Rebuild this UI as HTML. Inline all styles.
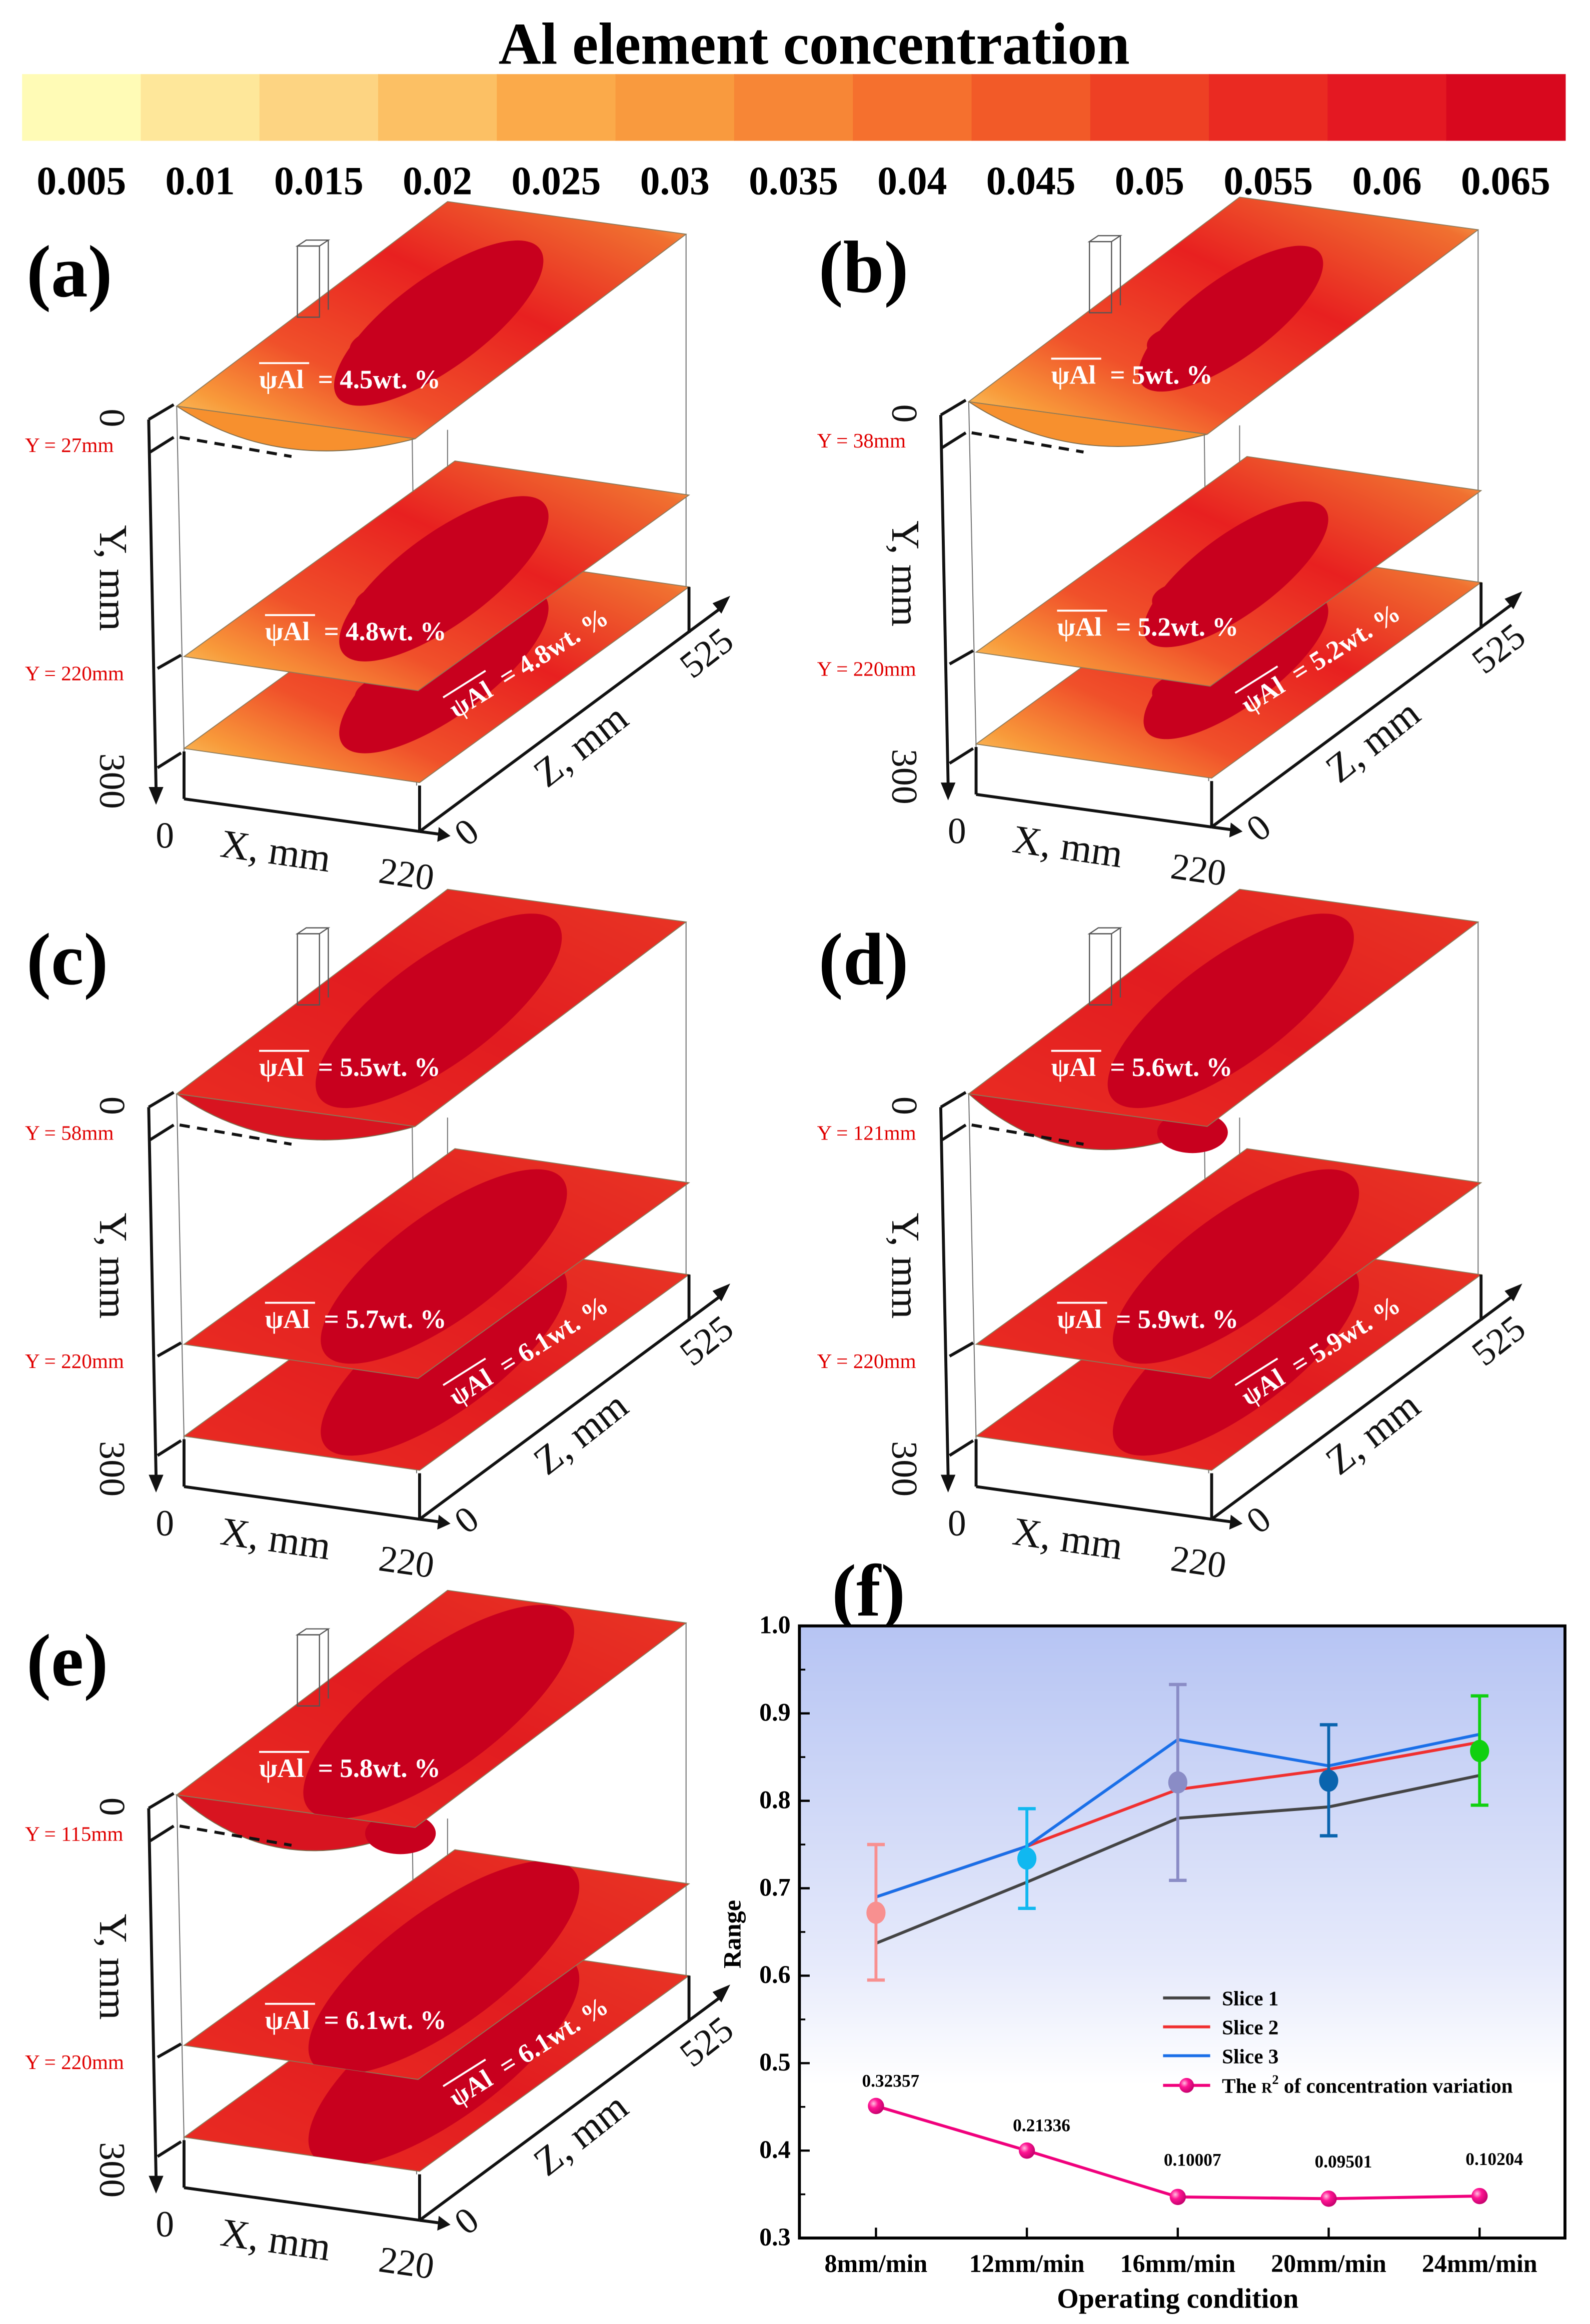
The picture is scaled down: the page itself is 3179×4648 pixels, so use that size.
<!DOCTYPE html>
<html><head><meta charset="utf-8">
<style>
html,body{margin:0;padding:0;background:#fff;}
svg{display:block;}
text{font-family:"Liberation Serif",serif;}
</style></head>
<body>
<svg id="fig" xmlns="http://www.w3.org/2000/svg" width="3179" height="4648" viewBox="0 0 1080 1568" preserveAspectRatio="none">
<defs>
  <linearGradient id="plotbg" x1="0" y1="0" x2="0" y2="1">
    <stop offset="0" stop-color="#b6c4f3"/>
    <stop offset="0.55" stop-color="#e6eafb"/>
    <stop offset="0.75" stop-color="#ffffff"/>
    <stop offset="1" stop-color="#ffffff"/>
  </linearGradient>
  <linearGradient id="warmA" x1="0" y1="1" x2="1" y2="0">
    <stop offset="0" stop-color="#fbd070"/>
    <stop offset="0.12" stop-color="#f89a3a"/>
    <stop offset="0.3" stop-color="#f0502a"/>
    <stop offset="0.6" stop-color="#e82020"/>
    <stop offset="0.9" stop-color="#f07030"/>
    <stop offset="1" stop-color="#fbc060"/>
  </linearGradient>
  <linearGradient id="warmC" x1="0" y1="1" x2="1" y2="0">
    <stop offset="0" stop-color="#f06030"/>
    <stop offset="0.08" stop-color="#e82a22"/>
    <stop offset="0.5" stop-color="#e21c20"/>
    <stop offset="0.95" stop-color="#e83424"/>
    <stop offset="1" stop-color="#f07040"/>
  </linearGradient>
  <radialGradient id="ball" cx="0.35" cy="0.35" r="0.7">
    <stop offset="0" stop-color="#ffc0e0"/>
    <stop offset="0.4" stop-color="#ff1493"/>
    <stop offset="1" stop-color="#c0006a"/>
  </radialGradient>
</defs>
<g id="colorbar"></g>
<g id="panels"></g>
<g id="chart"></g>
</svg>
<script>
// ---- chart data ----
const categories = ['8mm/min','12mm/min','16mm/min','20mm/min','24mm/min'];
const slice1 = [0.637, 0.707, 0.780, 0.793, 0.829];
const slice2 = [0.690, 0.748, 0.813, 0.836, 0.867];
const slice3 = [0.690, 0.748, 0.870, 0.840, 0.876];
const meanVals = [0.672, 0.734, 0.821, 0.823, 0.857];
const errLow = [0.595, 0.677, 0.709, 0.760, 0.795];
const errHigh = [0.750, 0.791, 0.933, 0.887, 0.920];
const r2Vals = [0.451, 0.400, 0.347, 0.345, 0.348];
const r2Labels = ['0.32357','0.21336','0.10007','0.09501','0.10204'];
const yTicks = [0.3,0.4,0.5,0.6,0.7,0.8,0.9,1.0];
const yTickLabels = ['0.3','0.4','0.5','0.6','0.7','0.8','0.9','1.0'];
const cbLabels = ['0.005','0.01','0.015','0.02','0.025','0.03','0.035','0.04','0.045','0.05','0.055','0.06','0.065'];
const cbColors = ['#fffbb6','#fee79a','#fdd482','#fcc064','#fbaa4a','#f99a3e','#f78636','#f5702e','#f25a28','#ee4024','#ea2a22','#e41822','#d8081e'];

const NS='http://www.w3.org/2000/svg';
function mk(parent, tag, attrs, txt){
  const e=document.createElementNS(NS,tag);
  for(const k in attrs) e.setAttribute(k,attrs[k]);
  if(txt!==undefined) e.textContent=txt;
  parent.appendChild(e);
  return e;
}

// ---- colorbar ----
const cb=document.getElementById('colorbar');
let t=mk(cb,'text',{x:553,y:43,'text-anchor':'middle','font-size':40,'font-weight':'bold'},'Al element concentration');


const cbX0=15, cbX1=1063, segW=(cbX1-cbX0)/cbColors.length;
cbColors.forEach((c,i)=>{
  const r=mk(cb,'rect',{x:cbX0+i*segW,y:50,width:segW+0.5,height:45,fill:c});
  
  
});
cbLabels.forEach((l,i)=>{
  const tt=mk(cb,'text',{x:cbX0+(i+0.5)*segW,y:131,'text-anchor':'middle','font-size':27,'font-weight':'bold'},l);
  
  
});

// ---- panels ----
const panelsG=document.getElementById('panels');
const panels=[
 {id:'a',dx:0,dy:0,yl:'Y = 27mm',t1:'4.5wt. %',t2:'4.8wt. %',t3:'4.8wt. %',dip:14,warm:'warmA',blob:0.85,z:'525'},
 {id:'b',dx:538,dy:-3,yl:'Y = 38mm',t1:'5wt. %',t2:'5.2wt. %',t3:'5.2wt. %',dip:14,warm:'warmA',blob:0.75,z:'525'},
 {id:'c',dx:0,dy:464,yl:'Y = 58mm',t1:'5.5wt. %',t2:'5.7wt. %',t3:'6.1wt. %',dip:16,warm:'warmC',blob:1,z:'525'},
 {id:'d',dx:538,dy:464,yl:'Y = 121mm',t1:'5.6wt. %',t2:'5.9wt. %',t3:'5.9wt. %',dip:30,warm:'warmC',blob:1,z:'525'},
 {id:'e',dx:0,dy:937,yl:'Y = 115mm',t1:'5.8wt. %',t2:'6.1wt. %',t3:'6.1wt. %',dip:30,warm:'warmC',blob:1.1,z:'525'}
];
function P(p,x,y){return (x+p.dx)+','+(y+p.dy);}
function plane(g,p,L,F,R){
  const B=[L[0]+R[0]-F[0], L[1]+R[1]-F[1]];
  const pts=[L,F,R,B].map(q=>P(p,q[0],q[1])).join(' ');
  const cid='clip'+p.id+L[1];
  const cp=mk(g,'clipPath',{id:cid});
  mk(cp,'polygon',{points:pts});
  const poly=mk(g,'polygon',{points:pts,fill:'url(#'+p.warm+')',stroke:'#8a7a5a','stroke-width':0.6});
  
  
  const cg=mk(g,'g',{'clip-path':'url(#'+cid+')'});
  const cx=(L[0]+R[0])/2+5, cy=(L[1]+R[1])/2+2;
  mk(cg,'ellipse',{cx:cx+p.dx,cy:cy+p.dy,rx:100*p.blob,ry:36*p.blob,fill:'#c8001e',transform:'rotate(-36 '+(cx+p.dx)+' '+(cy+p.dy)+')'});
  mk(cg,'ellipse',{cx:cx+p.dx-30,cy:cy+p.dy+18,rx:36*p.blob,ry:18*p.blob,fill:'#c8001e'});
}
panels.forEach(p=>{
  const g=mk(panelsG,'g',{});
  
  
  const lbl=mk(g,'text',{x:18+p.dx,y:200+p.dy,'font-size':50,'font-weight':'bold'},'('+p.id+')');
  
  
  const thin={stroke:'#777','stroke-width':0.7,fill:'none'};
  mk(g,'line',Object.assign({x1:120+p.dx,y1:274+p.dy,x2:125+p.dx,y2:507+p.dy},thin));
  mk(g,'line',Object.assign({x1:280+p.dx,y1:296+p.dy,x2:283+p.dx,y2:530+p.dy},thin));
  mk(g,'line',Object.assign({x1:466+p.dx,y1:158+p.dy,x2:466+p.dx,y2:396+p.dy},thin));
  mk(g,'line',Object.assign({x1:304+p.dx,y1:290+p.dy,x2:304+p.dx,y2:330+p.dy},thin));
  plane(g,p,[125,505],[285,528],[468,396]);
  plane(g,p,[125,443],[284,466],[468,334]);
  const dipPath='M'+P(p,120,274)+' Q'+P(p,190,306+p.dip)+' '+P(p,282,296)+' Z';
  const dip=mk(g,'path',{d:dipPath,fill:p.warm==='warmA'?'#f7902e':'#d81420',stroke:'#7a6a4a','stroke-width':0.6});
  
  
  if(p.dip>20){
    const d2=mk(g,'ellipse',{cx:272+p.dx,cy:300+p.dy,rx:24,ry:14,fill:'#c8001e'});
    
    
  }
  plane(g,p,[120,274],[282,296],[466,158]);
  const nz=mk(g,'g',{});
  
  
  mk(nz,'rect',{x:202+p.dx,y:166+p.dy,width:15,height:48,fill:'none',stroke:'#555','stroke-width':0.8});
  mk(nz,'polygon',{points:[P(p,202,166),P(p,208,162),P(p,223,162),P(p,217,166)].join(' '),fill:'none',stroke:'#555','stroke-width':0.8});
  mk(nz,'line',{x1:223+p.dx,y1:162+p.dy,x2:223+p.dx,y2:209+p.dy,stroke:'#555','stroke-width':0.8});
  const ax={stroke:'#111','stroke-width':2,fill:'none'};
  mk(g,'line',Object.assign({x1:101+p.dx,y1:283+p.dy,x2:106+p.dx,y2:532+p.dy},ax));
  mk(g,'polygon',{points:[P(p,101,531),P(p,111,531),P(p,106,543)].join(' '),fill:'#111'});
  [[101,283,118,273],[102,305,118,295],[107,451,123,442],[107,518,123,508]].forEach(s=>{
    mk(g,'line',Object.assign({x1:s[0]+p.dx,y1:s[1]+p.dy,x2:s[2]+p.dx,y2:s[3]+p.dy},ax));
  });
  mk(g,'line',{x1:122+p.dx,y1:295+p.dy,x2:198+p.dx,y2:308+p.dy,stroke:'#111','stroke-width':2,'stroke-dasharray':'7,5'});
  mk(g,'line',Object.assign({x1:125+p.dx,y1:507+p.dy,x2:125+p.dx,y2:539+p.dy},ax));
  mk(g,'line',Object.assign({x1:125+p.dx,y1:539+p.dy,x2:285+p.dx,y2:561+p.dy},ax));
  mk(g,'line',Object.assign({x1:285+p.dx,y1:530+p.dy,x2:285+p.dx,y2:561+p.dy},ax));
  mk(g,'line',Object.assign({x1:285+p.dx,y1:561+p.dy,x2:300+p.dx,y2:563+p.dy},ax));
  mk(g,'polygon',{points:[P(p,298,558),P(p,306,564),P(p,297,568)].join(' '),fill:'#111'});
  mk(g,'line',Object.assign({x1:285+p.dx,y1:561+p.dy,x2:490+p.dx,y2:410+p.dy},ax));
  mk(g,'polygon',{points:[P(p,484,407),P(p,496,402),P(p,490,414)].join(' '),fill:'#111'});
  mk(g,'line',Object.assign({x1:468+p.dx,y1:396+p.dy,x2:468+p.dx,y2:427+p.dy},ax));
  const lab=(x,y,s,rot,fs,fill,name,anchor)=>{
    const tt=mk(g,'text',{x:x+p.dx,y:y+p.dy,'font-size':fs,fill:fill||'#111','text-anchor':anchor||'middle',transform:rot?('rotate('+rot+' '+(x+p.dx)+' '+(y+p.dy)+')'):''},s);
    
    
    return tt;
  };
  lab(68,282,'0',90,25,null,'y-axis-min');
  lab(68,390,'Y, mm',90,27,null,'y-axis-title');
  lab(68,527,'300',90,25,null,'y-axis-max');
  lab(17,305,p.yl,0,14,'#e00000','surface-depth-label','start');
  lab(17,459,'Y = 220mm',0,14,'#e00000','slice-depth-label','start');
  lab(112,572,'0',0,25,null,'x-axis-min');
  lab(186,583,'X, mm',8,27,null,'x-axis-title');
  lab(275,598,'220',8,25,null,'x-axis-max');
  lab(322,568,'0',-38,25,null,'z-axis-min');
  lab(400,510,'Z, mm',-38,27,null,'z-axis-title');
  lab(485,447,p.z,-38,25,null,'z-axis-max');
  const psi=(x,y,val,rot,name)=>{
    const gg=mk(g,'g',{transform:rot?('rotate('+rot+' '+(x+p.dx)+' '+(y+p.dy)+')'):''});
    
    
    mk(gg,'text',{x:x+p.dx,y:y+p.dy,'font-size':18,'font-weight':'bold',fill:'#fff'},'ψAl');
    mk(gg,'line',{x1:x+p.dx,y1:y+p.dy-17,x2:x+p.dx+34,y2:y+p.dy-17,stroke:'#fff','stroke-width':1.3});
    mk(gg,'text',{x:x+p.dx+40,y:y+p.dy,'font-size':18,fill:'#fff','font-weight':'bold'},'=  '+val);
  };
  psi(176,262,p.t1,0,'top-slice-mean');
  psi(180,432,p.t2,0,'middle-slice-mean');
  psi(310,485,p.t3,-32,'bottom-slice-mean');
});

// ---- chart (f) ----
const ch=document.getElementById('chart');
const PX0=543, PX1=1063, PY0=1097, PY1=1510;
const xPos=i=>595+i*102.5;
const yPos=v=>PY1-(v-0.3)/0.7*(PY1-PY0);
let fl=mk(ch,'text',{x:565,y:1090,'font-size':50,'font-weight':'bold'},'(f)');


let bg=mk(ch,'rect',{x:PX0,y:PY0,width:PX1-PX0,height:PY1-PY0,fill:'url(#plotbg)'});


yTicks.forEach((v,i)=>{
  const tk=mk(ch,'line',{x1:PX0,y1:yPos(v),x2:PX0+7,y2:yPos(v),stroke:'#000','stroke-width':1.5});
  
  
  if(i<yTicks.length-1){
    const mt=mk(ch,'line',{x1:PX0,y1:yPos(v+0.05),x2:PX0+4,y2:yPos(v+0.05),stroke:'#000','stroke-width':1.2});
    
    
  }
  const tl=mk(ch,'text',{x:PX0-6,y:yPos(v)+5,'text-anchor':'end','font-size':17,'font-weight':'bold'},yTickLabels[i]);
  
  
});
categories.forEach((c,i)=>{
  const tk=mk(ch,'line',{x1:xPos(i),y1:PY1,x2:xPos(i),y2:PY1-7,stroke:'#000','stroke-width':1.5});
  
  
  const tl=mk(ch,'text',{x:xPos(i),y:PY1+23,'text-anchor':'middle','font-size':17,'font-weight':'bold'},c);
  
  
});
const lineOf=(arr,col,name)=>{
  const pl=mk(ch,'polyline',{points:arr.map((v,i)=>xPos(i)+','+yPos(v)).join(' '),fill:'none',stroke:col,'stroke-width':2});
  
  
};
lineOf(slice1,'#444','slice-1-line');
lineOf(slice2,'#f03030','slice-2-line');
lineOf(slice3,'#1a6fe8','slice-3-line');
const errColors=['#f89090','#10b8f0','#8a8cc6','#0a64ae','#10d010'];
meanVals.forEach((v,i)=>{
  const x=xPos(i), c=errColors[i];
  const eb=mk(ch,'g',{});
  
  
  mk(eb,'line',{x1:x,y1:yPos(errLow[i]),x2:x,y2:yPos(errHigh[i]),stroke:c,'stroke-width':2});
  mk(eb,'line',{x1:x-6,y1:yPos(errLow[i]),x2:x+6,y2:yPos(errLow[i]),stroke:c,'stroke-width':2.2});
  mk(eb,'line',{x1:x-6,y1:yPos(errHigh[i]),x2:x+6,y2:yPos(errHigh[i]),stroke:c,'stroke-width':2.2});
  const dot=mk(ch,'ellipse',{cx:x,cy:yPos(v),rx:6.5,ry:7.5,fill:c});
  
  
});
let r2l=mk(ch,'polyline',{points:r2Vals.map((v,i)=>xPos(i)+','+yPos(v)).join(' '),fill:'none',stroke:'#f0007c','stroke-width':2});


r2Vals.forEach((v,i)=>{
  const b=mk(ch,'circle',{cx:xPos(i),cy:yPos(v),r:5.5,fill:'url(#ball)'});
  
  
  const lbY = i<2 ? yPos(v)-13 : yPos(v)-21;
  const lt=mk(ch,'text',{x:xPos(i)+10,y:lbY,'text-anchor':'middle','font-size':12,'font-weight':'bold'},r2Labels[i]);
  
  
});
let frame=mk(ch,'rect',{x:PX0,y:PY0,width:PX1-PX0,height:PY1-PY0,fill:'none',stroke:'#000','stroke-width':2});


const leg=mk(ch,'g',{});


[['Slice 1','#444'],['Slice 2','#f03030'],['Slice 3','#1a6fe8']].forEach((s,i)=>{
  const y=1348+i*19.5;
  const e=mk(leg,'g',{});
  
  
  mk(e,'line',{x1:790,y1:y,x2:822,y2:y,stroke:s[1],'stroke-width':2});
  mk(e,'text',{x:830,y:y+5,'font-size':14,'font-weight':'bold'},s[0]);
});
const e4=mk(leg,'g',{});


mk(e4,'line',{x1:790,y1:1407,x2:822,y2:1407,stroke:'#f0007c','stroke-width':2});
mk(e4,'circle',{cx:806,cy:1407,r:5,fill:'url(#ball)'});
const lt4=mk(e4,'text',{x:830,y:1412,'font-size':14,'font-weight':'bold'});
lt4.innerHTML='The <tspan font-size="10">R</tspan><tspan font-size="9" dy="-6">2</tspan><tspan dy="6"> of concentration variation</tspan>';
let xt=mk(ch,'text',{x:800,y:1557,'text-anchor':'middle','font-size':19,'font-weight':'bold'},'Operating condition');


let yt=mk(ch,'text',{x:503,y:1305,'text-anchor':'middle','font-size':17,'font-weight':'bold',transform:'rotate(-90 503 1305)'},'Range');


</script>
</body></html>
